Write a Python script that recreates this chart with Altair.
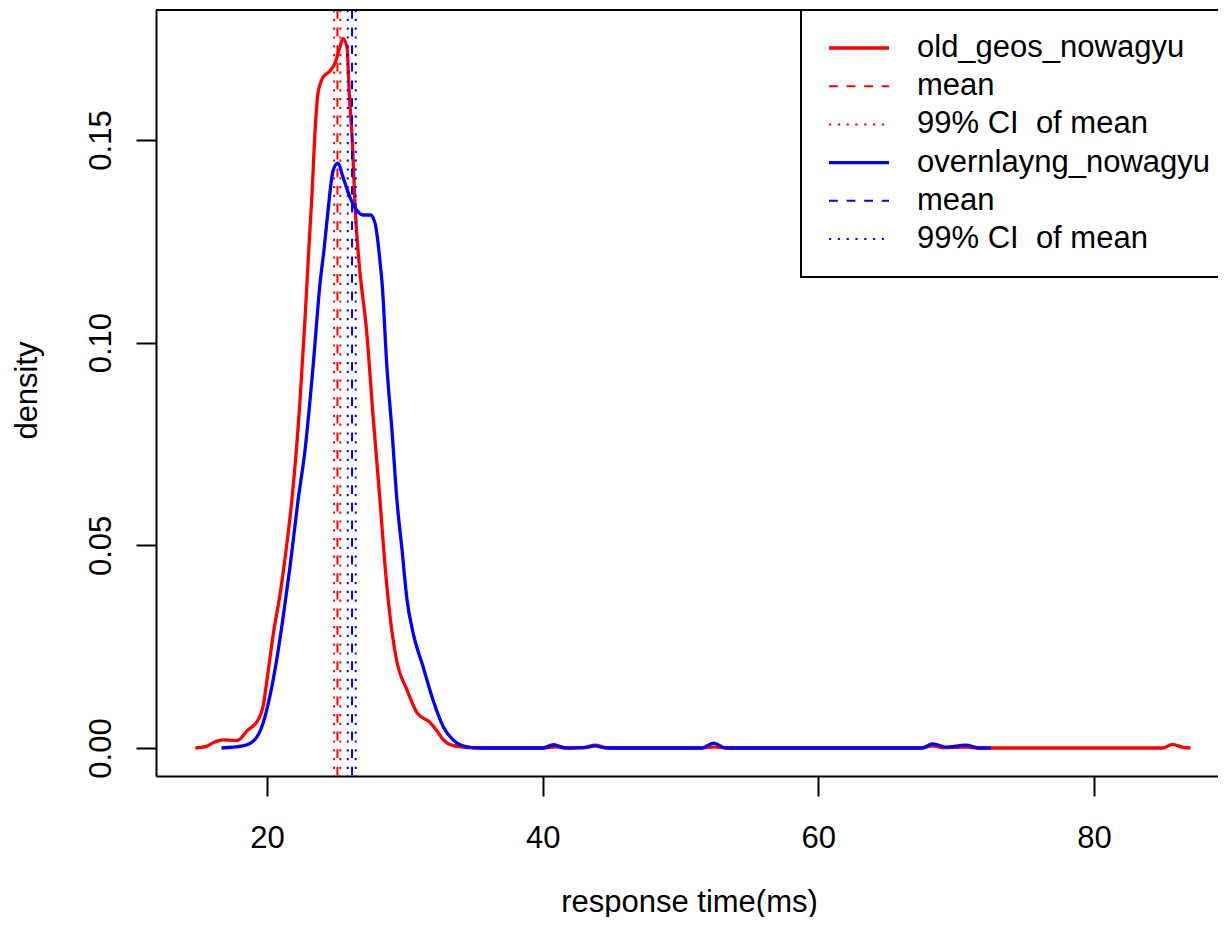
import altair as alt
import pandas as pd

# ---------------- data ----------------
old_x = [14.8, 15.6, 16.1, 16.8, 17.4, 17.8, 18.6, 19.35, 19.7, 20.07, 20.45, 20.95,
         21.45, 21.8, 22.4, 22.76, 23.0, 23.27, 23.5, 23.7, 24.07, 24.57, 24.94, 25.3,
         25.5, 25.8, 25.97, 26.2, 26.4, 26.65, 27.25, 27.7, 28.2, 28.57, 28.93, 29.4,
         30.16, 30.9, 31.8, 32.3, 32.8, 33.4, 34.7, 36.0, 40.0, 41.0, 42.0, 43.0, 43.8,
         44.6, 45.5, 51.5, 52.4, 53.3, 67.5, 68.3, 69.1, 70.7, 71.5, 85.0, 85.7, 86.4, 87.0]
old_y = [0.0, 0.0004, 0.0013, 0.002, 0.0019, 0.0018, 0.0044, 0.0069, 0.010, 0.0185,
         0.028, 0.038, 0.0506, 0.061, 0.0859, 0.106, 0.121, 0.137, 0.153, 0.1615, 0.1655,
         0.167, 0.169, 0.173, 0.175, 0.173, 0.1615, 0.149, 0.133, 0.121, 0.102, 0.0817,
         0.061, 0.0447, 0.0324, 0.0217, 0.0143, 0.0086, 0.0064, 0.0044, 0.002, 0.0007,
         0.0001, 0.0, 0.0, 0.0003, 0.0, 0.0001, 0.0007, 0.0001, 0.0, 0.0, 0.0003, 0.0,
         0.0, 0.0005, 0.0001, 0.0002, 0.0, 0.0, 0.0009, 0.0002, 0.0]

ovl_x = [16.7, 18.25, 19.1, 19.7, 20.2, 20.7, 21.16, 21.67, 22.25, 22.76, 23.34, 23.85,
         24.14, 24.43, 24.8, 25.15, 25.5, 26.0, 26.5, 26.97, 27.5, 27.84, 28.06, 28.2,
         28.35, 28.7, 29.08, 29.43, 29.8, 30.16, 30.6, 31.33, 32.05, 32.8, 33.5, 34.5,
         35.5, 40.0, 40.8, 41.6, 43.0, 43.8, 44.6, 51.5, 52.4, 53.3, 67.5, 68.3, 69.3,
         70.7, 71.7, 72.5]
ovl_y = [0.0, 0.0005, 0.002, 0.006, 0.0126, 0.0217, 0.032, 0.0447, 0.061, 0.0735, 0.094,
         0.1147, 0.123, 0.1327, 0.1425, 0.1443, 0.141, 0.136, 0.1327, 0.1315, 0.1315,
         0.1295, 0.1245, 0.120, 0.1147, 0.094, 0.0777, 0.061, 0.0488, 0.0365, 0.0284,
         0.020, 0.0118, 0.0052, 0.002, 0.0003, 0.0, 0.0, 0.0008, 0.0, 0.0001, 0.0005, 0.0,
         0.0, 0.0012, 0.0, 0.0, 0.001, 0.0002, 0.0007, 0.0, 0.0]

old_mean = [25.11]
old_ci = [24.87, 25.32]
ovl_mean = [26.17]
ovl_ci = [25.86, 26.44]

x_ticks = [20, 40, 60, 80]
y_ticks = [0.00, 0.05, 0.10, 0.15]

legend_labels = ["old_geos_nowagyu", "mean", "99% CI\u00a0 of mean",
                 "overnlayng_nowagyu", "mean", "99% CI\u00a0 of mean"]
legend_colors = ["red", "red", "red", "blue", "blue", "blue"]
legend_kinds = ["solid", "dashed", "dotted", "solid", "dashed", "dotted"]

# ---------------- styling ----------------
FONT = "Liberation Sans"
FS = 31
W, H = 1062, 766
DASH = [8.8, 8.8]
DOT = [2.2, 6.6]

xscale = alt.Scale(domain=[11.947, 88.997], nice=False, zero=False)
yscale = alt.Scale(domain=[-0.006908, 0.18207], nice=False, zero=False)

x_axis = alt.Axis(values=x_ticks, format="d", grid=False, tickSize=20, tickWidth=2,
                  tickColor="black", domainColor="black", domainWidth=2,
                  labelFont=FONT, labelFontSize=FS, labelColor="black",
                  labelPadding=51, labelBaseline="alphabetic", labelAlign="center",
                  labelFlush=False, labelOverlap=False,
                  title="response time(ms)", titleFont=FONT, titleFontSize=FS,
                  titleFontWeight="normal", titleColor="black", titleX=533, titleY=135,
                  titleBaseline="alphabetic", titleAlign="center")
y_axis = alt.Axis(values=y_ticks, format=".2f", grid=False, tickSize=20, tickWidth=2,
                  tickColor="black", domainColor="black", domainWidth=2,
                  labelFont=FONT, labelFontSize=FS, labelColor="black",
                  labelAngle=270, labelAlign="center", labelBaseline="alphabetic",
                  labelPadding=26, labelFlush=False, labelOverlap=False,
                  title="density", titleFont=FONT, titleFontSize=FS,
                  titleFontWeight="normal", titleColor="black", titleAngle=270,
                  titleX=-120, titleY=380, titleBaseline="alphabetic", titleAlign="center")


def density_layer(xs, ys, color):
    df = pd.DataFrame({"x": xs, "y": ys})
    return alt.Chart(df).mark_line(color=color, strokeWidth=3.3, interpolate="monotone").encode(
        x=alt.X("x:Q", scale=xscale, axis=x_axis),
        y=alt.Y("y:Q", scale=yscale, axis=y_axis),
    )


def vline_layer(vals, color, dash):
    df = pd.DataFrame({"x": vals})
    return alt.Chart(df).mark_rule(color=color, strokeWidth=2, strokeDash=dash).encode(
        x=alt.X("x:Q", scale=xscale, axis=x_axis),
    )


layers = [
    density_layer(old_x, old_y, "red"),
    vline_layer(old_mean, "red", DASH),
    vline_layer(old_ci, "red", DOT),
    density_layer(ovl_x, ovl_y, "blue"),
    vline_layer(ovl_mean, "blue", DASH),
    vline_layer(ovl_ci, "blue", DOT),
]

# top frame line (the right one lies outside the picture in the reference)
layers.append(alt.Chart(pd.DataFrame({"a": [0]})).mark_rule(color="black", strokeWidth=2).encode(
    x=alt.value(0), x2=alt.value(W), y=alt.value(0)))

# ---------------- legend box ----------------
LX0, LY0, LY1 = 645, 0, 267
SYM_X0, SYM_X1, TXT_X = 673, 733, 761
ROW0, ROWD = 38, 38.2

layers.append(alt.Chart(pd.DataFrame({"a": [0]})).mark_rect(
    fill="white", stroke="black", strokeWidth=2).encode(
    x=alt.value(LX0), x2=alt.value(W + 60), y=alt.value(LY0), y2=alt.value(LY1)))

for i, (lab, col, kind) in enumerate(zip(legend_labels, legend_colors, legend_kinds)):
    yy = ROW0 + ROWD * i
    kw = {"color": col}
    if kind == "solid":
        kw["strokeWidth"] = 3.3
    elif kind == "dashed":
        kw["strokeWidth"] = 2
        kw["strokeDash"] = DASH
    else:
        kw["strokeWidth"] = 2
        kw["strokeDash"] = DOT
    layers.append(alt.Chart(pd.DataFrame({"a": [0]})).mark_rule(**kw).encode(
        x=alt.value(SYM_X0), x2=alt.value(SYM_X1), y=alt.value(yy)))
    layers.append(alt.Chart(pd.DataFrame({"a": [0]})).mark_text(
        align="left", baseline="middle", font=FONT, fontSize=FS, color="black").encode(
        x=alt.value(TXT_X), y=alt.value(yy), text=alt.value(lab)))

chart = alt.layer(*layers).properties(
    width=W, height=H,
    padding={"left": 148, "top": 2, "right": 0, "bottom": 141},
    autosize=alt.AutoSizeParams(type="none"),
).configure_view(stroke=None).configure(background="white")

chart.save("out.html", embed_options={"renderer": "svg", "actions": False})
